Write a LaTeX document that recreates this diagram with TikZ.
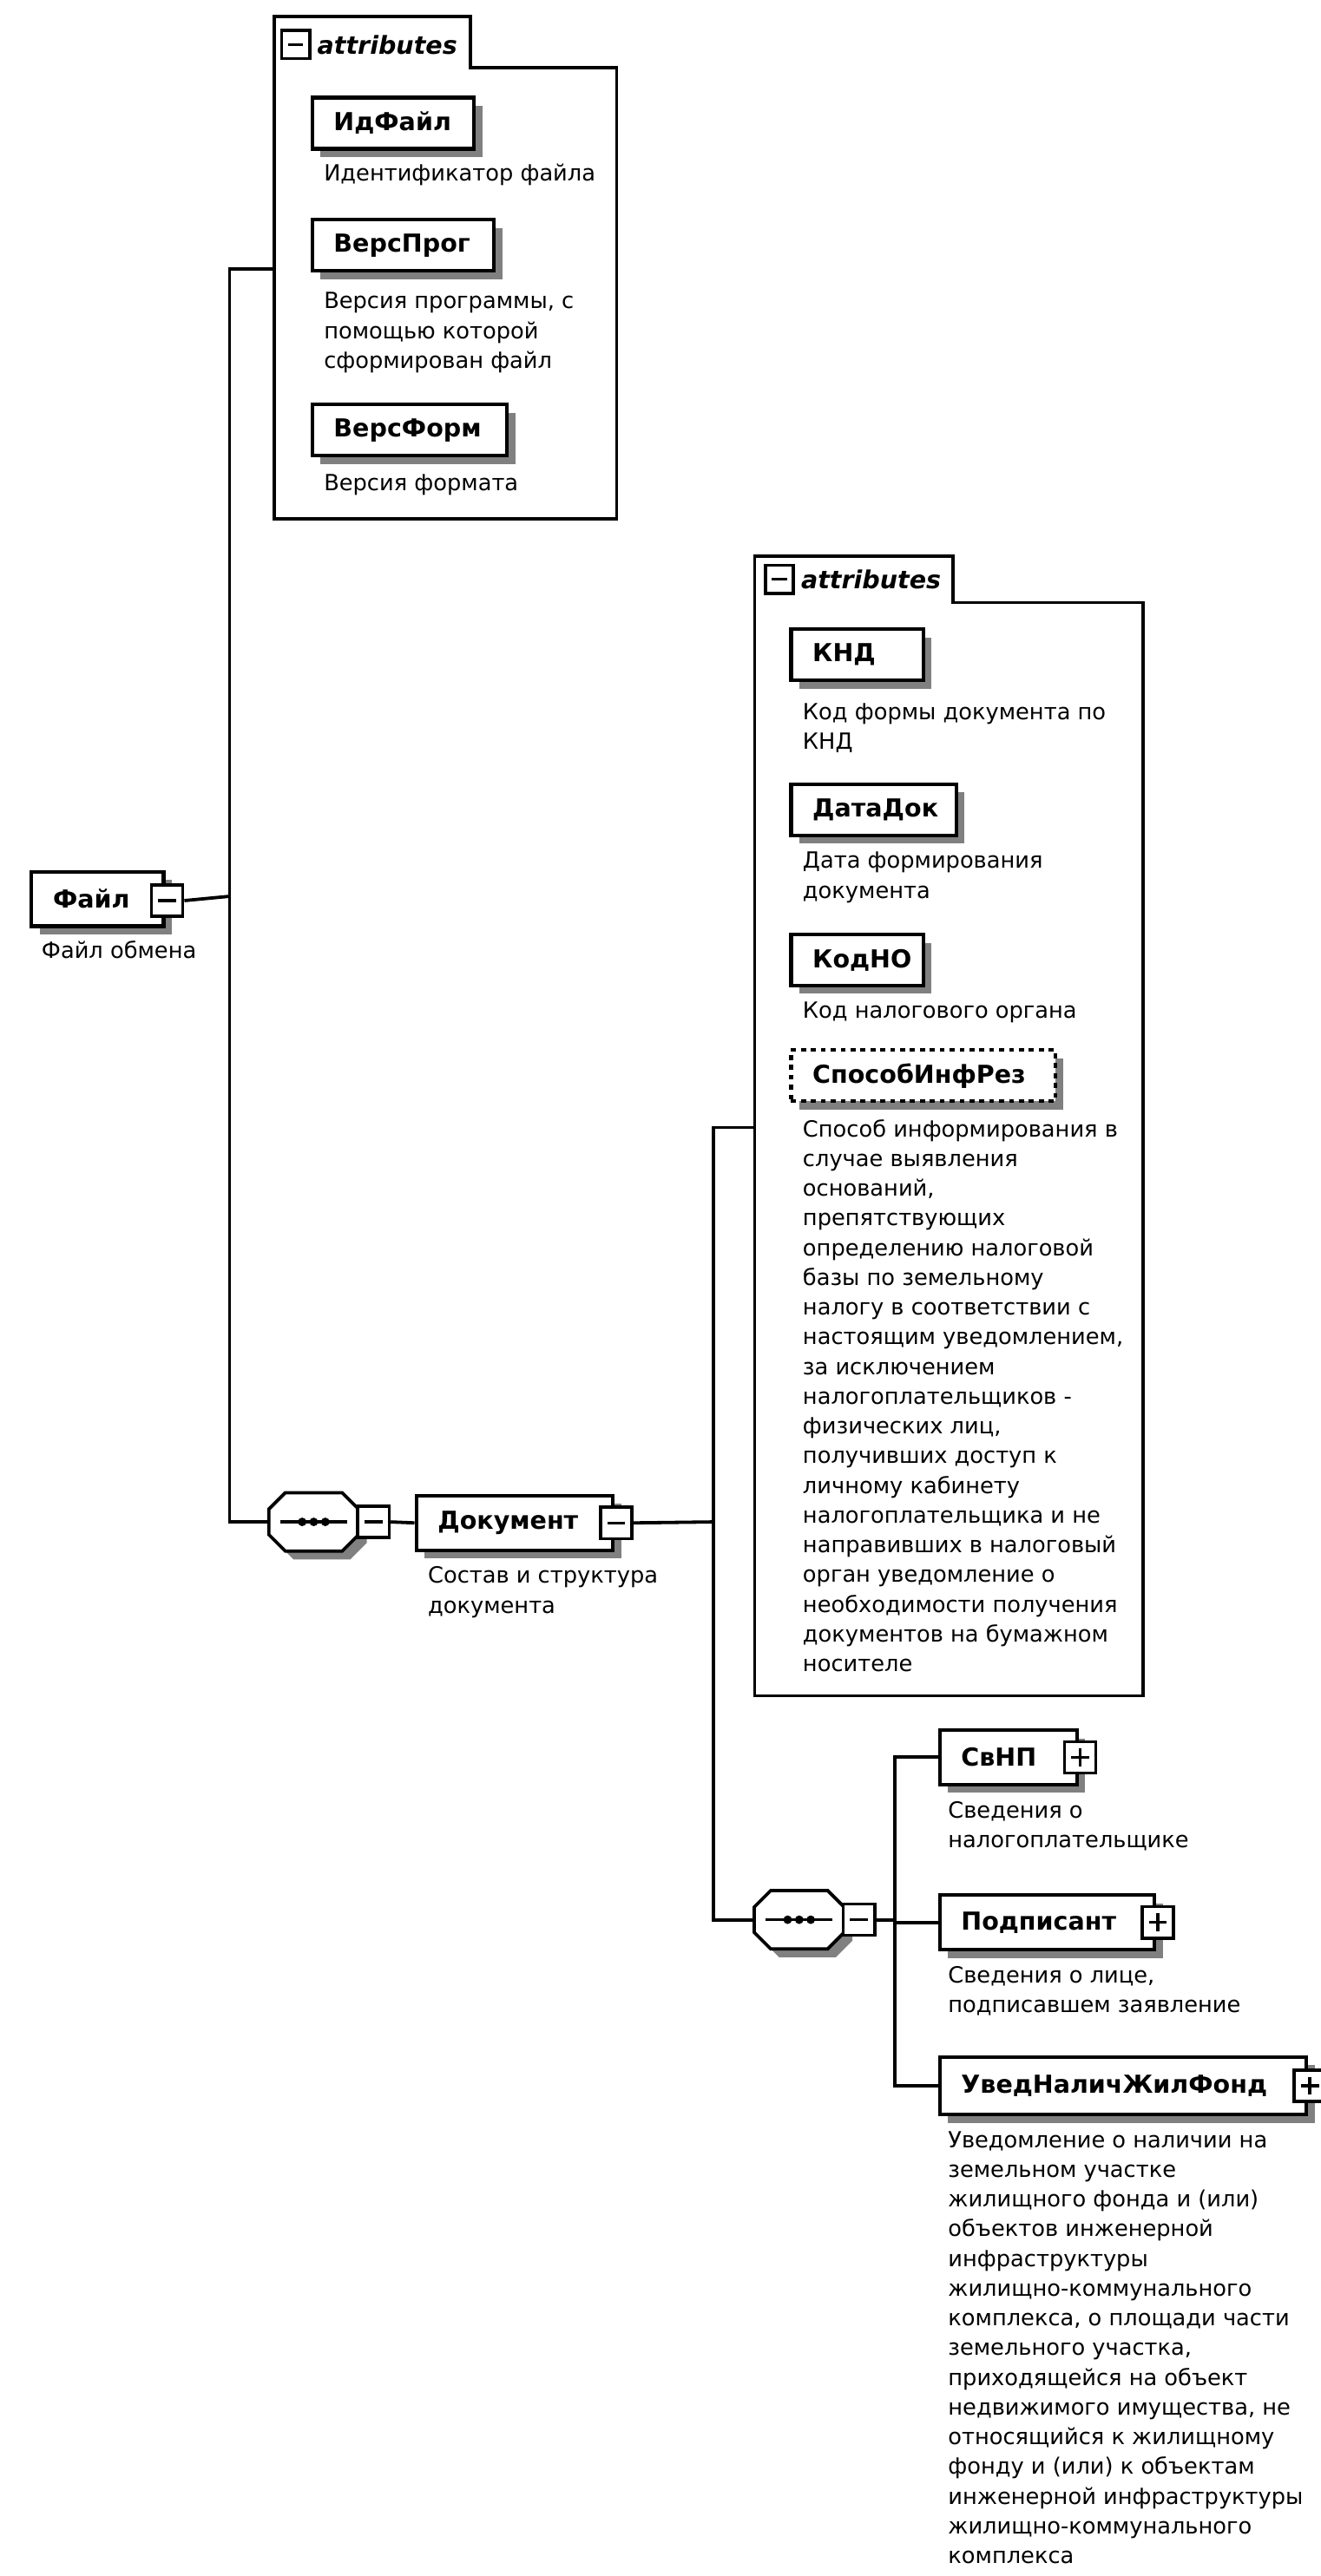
\documentclass[tikz,border=0pt]{standalone}
\usepackage{fontspec}
\setmainfont{DejaVu Sans}
\usetikzlibrary{shadows,calc}
\newcommand\descsize{\fontsize{13.5}{18}\selectfont}
\newcommand\namesize{\fontsize{15}{18}\selectfont\bfseries}
\newcommand\attsize{\fontsize{15}{18}\selectfont\bfseries\itshape}
\newcommand\octoshape[1]{%
  \draw[octline, shad] ($(#1.north west)+(10,0)$) -- ($(#1.north east)+(-10,0)$)
    -- ($(#1.north east)+(0,10)$) -- ($(#1.south east)+(0,-10)$)
    -- ($(#1.south east)+(-10,0)$) -- ($(#1.south west)+(10,0)$)
    -- ($(#1.south west)+(0,-10)$) -- ($(#1.north west)+(0,10)$) -- cycle;
  \draw[line width=1.8pt] ($(#1.west)+(7,0)$) -- ($(#1.east)+(-7,0)$);
  \foreach \dx in {-7,0,7} \fill ($(#1.center)+(\dx,0)$) circle (2.6pt);}
\tikzset{
  conn/.style={line width=2pt},
  shad/.style={general shadow={fill=black!50, shadow xshift=5pt, shadow yshift=-5pt}},
  elem/.style={draw, line width=2.2pt, fill=white, shad, font=\namesize, anchor=north west,
    inner xsep=13pt, inner ysep=0pt, minimum height=33pt, text width=#1, align=left},
  desc/.style={font=\descsize, anchor=north west, inner sep=0pt, align=left},
  pmbox/.style={draw, line width=1.9pt, fill=white, minimum size=19pt, inner sep=0pt},
  minusbox/.style={pmbox, path picture={\draw[line width=1.8pt]
      ([xshift=4pt]path picture bounding box.west) -- ([xshift=-4pt]path picture bounding box.east);}},
  plusbox/.style={pmbox, path picture={\draw[line width=1.8pt]
      ([xshift=4pt]path picture bounding box.west) -- ([xshift=-4pt]path picture bounding box.east)
      ([yshift=-4pt]path picture bounding box.north) -- ([yshift=4pt]path picture bounding box.south);}},
  attminus/.style={minusbox, minimum size=17pt},
  seqnode/.style={minimum width=54pt, minimum height=35pt, inner sep=0pt},
  octline/.style={draw, line width=2pt, fill=white},
  cont/.style={line width=1.9pt},
  atttext/.style={font=\attsize, anchor=west, inner sep=0pt}
}
\begin{document}
\begin{tikzpicture}[x=1pt,y=-1pt]
\useasboundingbox (0,0) rectangle (800,1560.6);
\fill[white] (0,0) rectangle (800,1560.6);

% ---------- attributes container 1
\node[anchor=north west, minimum width=207pt, minimum height=273pt, inner sep=0pt] (att1) at (166,41) {};
\draw[cont] (att1.south west) -- (166,10) -- (285,10) -- (285,41) -- (att1.north east) -- (att1.south east) -- cycle;
\node[attminus] (att1m) at (179,27) {};
\node[atttext] (att1t) at (192,27) {attributes};
\coordinate (att1in) at (166,163);

\node[elem=72pt, minimum height=31pt] (idf) at (188,58) {ИдФайл};
\node[desc] (idfd) at (196,99) {Идентификатор файла};
\node[elem=84pt, minimum height=31pt] (vprog) at (188,132) {ВерсПрог};
\node[desc] (vprogd) at (196,177) {Версия программы, с\\помощью которой\\сформирован файл};
\node[elem=92pt, minimum height=31pt] (vform) at (188,244) {ВерсФорм};
\node[desc] (vformd) at (196,287) {Версия формата};

% ---------- root
\node[elem=54pt] (fajl) at (18,527) {Файл};
\node[minusbox] (fajlm) at ($(fajl.east)+(1,1)$) {};
\node[desc] (fajld) at (25,570) {Файл обмена};
\coordinate (j1) at (139,543);

% ---------- sequence 1 and Документ
\node[seqnode] (seq1) at (190,922) {};
\octoshape{seq1}
\node[minusbox] (seq1m) at ($(seq1.east)+(9,0)$) {};

\node[elem=93pt] (doc) at (251,905) {Документ};
\node[minusbox] (docm) at ($(doc.east)+(1,0)$) {};
\node[desc] (docd) at (259,949) {Состав и структура\\документа};
\coordinate (j2) at (432,922);

% ---------- attributes container 2
\node[anchor=north west, minimum width=235pt, minimum height=662pt, inner sep=0pt] (att2) at (457,365) {};
\draw[cont] (att2.south west) -- (457,337) -- (577,337) -- (577,365) -- (att2.north east) -- (att2.south east) -- cycle;
\node[attminus] (att2m) at (472,351) {};
\node[atttext] (att2t) at (485,351) {attributes};
\coordinate (att2in) at (457,683);

\node[elem=54pt, minimum height=31pt] (knd) at (478,380) {КНД};
\node[desc] (kndd) at (486,426) {Код формы документа по\\КНД};
\node[elem=74pt, minimum height=31pt] (datadok) at (478,474) {ДатаДок};
\node[desc] (datadokd) at (486,516) {Дата формирования\\документа};
\node[elem=54pt, minimum height=31pt] (kodno) at (478,565) {КодНО};
\node[desc] (kodnod) at (486,607) {Код налогового органа};
\node[elem=134pt, minimum height=31pt, dashed] (sposob) at (478,635) {СпособИнфРез};
\node[desc] (sposobd) at (486,678) {Способ информирования в\\случае выявления\\оснований,\\препятствующих\\определению налоговой\\базы по земельному\\налогу в соответствии с\\настоящим уведомлением,\\за исключением\\налогоплательщиков -\\физических лиц,\\получивших доступ к\\личному кабинету\\налогоплательщика и не\\направивших в налоговый\\орган уведомление о\\необходимости получения\\документов на бумажном\\носителе};

% ---------- sequence 2
\node[seqnode] (seq2) at (484,1163) {};
\octoshape{seq2}
\node[minusbox] (seq2m) at ($(seq2.east)+(9,0)$) {};
\coordinate (j3) at (542,1163);

\node[elem=57pt] (svnp) at (568,1047) {СвНП};
\node[plusbox] (svnpp) at ($(svnp.east)+(1,0)$) {};
\node[desc] (svnpd) at (574,1091) {Сведения о\\налогоплательщике};
\node[elem=104pt] (podp) at (568,1147) {Подписант};
\node[plusbox] (podpp) at ($(podp.east)+(1,0)$) {};
\node[desc] (podpd) at (574,1191) {Сведения о лице,\\подписавшем заявление};
\node[elem=196pt, minimum height=35pt] (uved) at (568,1245) {УведНаличЖилФонд};
\node[plusbox] (uvedp) at ($(uved.east)+(1,0)$) {};
\node[desc] (uvedd) at (574,1291) {Уведомление о наличии на\\земельном участке\\жилищного фонда и (или)\\объектов инженерной\\инфраструктуры\\жилищно-коммунального\\комплекса, о площади части\\земельного участка,\\приходящейся на объект\\недвижимого имущества, не\\относящийся к жилищному\\фонду и (или) к объектам\\инженерной инфраструктуры\\жилищно-коммунального\\комплекса};

% ---------- connectors
\draw[conn] (fajlm.east) -- (j1);
\draw[conn] (j1) |- (att1in);
\draw[conn] (j1) |- (seq1.west);
\draw[conn] (seq1m.east) -- (doc.west);
\draw[conn] (docm.east) -- (j2);
\draw[conn] (j2) |- (att2in);
\draw[conn] (j2) |- (seq2.west);
\draw[conn] (seq2m.east) -- (j3);
\draw[conn] (j3) |- (svnp.west);
\draw[conn] (j3) |- (podp.west);
\draw[conn] (j3) |- (uved.west);
\end{tikzpicture}
\end{document}
